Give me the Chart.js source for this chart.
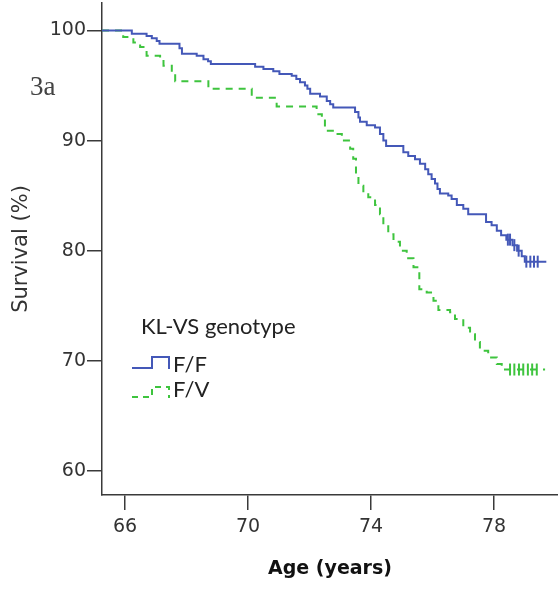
<!DOCTYPE html>
<html>
<head>
<meta charset="utf-8">
<script src="https://cdn.jsdelivr.net/npm/chart.js@4"></script>
<style>
  html, body { margin: 0; padding: 0; background: #fff; }
  #km { display: block; }
</style>
</head>
<body>
<canvas id="km" width="558" height="590"></canvas>
<script>
// Kaplan-Meier curves, values (age in years, survival in %)
const ffAge = [65.25, 66.22, 66.7, 66.87, 67.03, 67.12, 67.77, 67.85, 68.33, 68.55, 68.7, 68.79,
  70.23, 70.5, 70.82, 71.02, 71.42, 71.57, 71.69, 71.85, 71.93, 72.02, 72.34, 72.56, 72.67, 72.77,
  73.48, 73.59, 73.64, 73.86, 74.13, 74.29, 74.4, 74.49, 75.05, 75.21, 75.43, 75.59, 75.76, 75.86,
  75.97, 76.08, 76.16, 76.24, 76.51, 76.62, 76.79, 77.0, 77.16, 77.74, 77.92, 78.09, 78.23,
  78.4, 78.6, 78.75, 78.9, 79.0, 79.7];
const ffSurv = [100, 99.7, 99.5, 99.3, 99.05, 98.8, 98.4, 97.9, 97.7, 97.4, 97.2, 96.95,
  96.7, 96.5, 96.3, 96.05, 95.9, 95.6, 95.3, 95.0, 94.7, 94.25, 94.0, 93.6, 93.3, 93.0,
  92.6, 92.1, 91.7, 91.4, 91.2, 90.6, 90.0, 89.5, 88.95, 88.6, 88.3, 87.9, 87.4, 86.95,
  86.5, 86.1, 85.6, 85.2, 85.0, 84.7, 84.15, 83.8, 83.3, 82.6, 82.3, 81.8, 81.4,
  81.0, 80.5, 80.0, 79.5, 79.0, 79.0];

const fvAge = [65.25, 65.94, 66.27, 66.49, 66.7, 67.14, 67.25, 67.52, 67.63, 68.71, 70.12, 70.93,
  72.23, 72.29, 72.4, 72.5, 72.83, 73.05, 73.32, 73.42, 73.51, 73.59, 73.75, 73.91, 74.13, 74.29,
  74.4, 74.56, 74.73, 74.94, 75.16, 75.38, 75.57, 75.81, 76.03, 76.19, 76.57, 76.73, 77.0, 77.22,
  77.38, 77.54, 77.81, 78.09, 78.25, 79.66];
const fvSurv = [100, 99.4, 98.9, 98.5, 97.7, 97.4, 96.8, 96.2, 95.4, 94.7, 93.9, 93.1,
  92.4, 92.4, 92.0, 90.9, 90.6, 90.0, 89.25, 88.35, 86.8, 85.9, 85.3, 84.85, 84.15, 83.3,
  82.4, 81.5, 80.8, 80.0, 79.3, 78.5, 76.5, 76.2, 75.45, 74.6, 74.4, 73.8, 73.0, 72.4,
  71.7, 70.9, 70.3, 69.7, 69.2, 69.2];

// censored cases
const ffCensAge = [78.45, 78.52, 78.66, 78.8, 79.05, 79.18, 79.3, 79.42];
const ffCensSurv = [81.0, 81.0, 80.5, 80.0, 79.0, 79.0, 79.0, 79.0];
const fvCensAge = [78.52, 78.66, 78.81, 78.95, 79.1, 79.24, 79.39];
const fvCensSurv = [69.2, 69.2, 69.2, 69.2, 69.2, 69.2, 69.2];

const xTicks = [66, 70, 74, 78];
const yTicks = [60, 70, 80, 90, 100];

const legendTitle = 'KL-VS genotype';
const groups = ['F/F', 'F/V'];

const blue = '#4458b8';
const green = '#3ec43e';
const axisCol = '#3a3a3a';

function pts(xs, ys) {
  return xs.map((x, i) => ({ x: x, y: ys[i] }));
}

// legend with step icons plus the "3a" panel label
const extras = {
  id: 'extras',
  afterDraw(chart) {
    const c = chart.ctx;
    c.save();
    c.fillStyle = '#222';
    c.textBaseline = 'middle';
    c.font = '22px Lato, "Open Sans", sans-serif';
    c.fillText(legendTitle, 141, 327);

    c.lineWidth = 2;
    c.strokeStyle = blue;
    c.setLineDash([]);
    c.beginPath();
    c.moveTo(132, 368); c.lineTo(152, 368); c.lineTo(152, 357);
    c.lineTo(169, 357); c.lineTo(169, 369);
    c.stroke();

    c.strokeStyle = green;
    c.setLineDash([6, 5]);
    c.beginPath();
    c.moveTo(132, 397); c.lineTo(152, 397); c.lineTo(152, 387);
    c.lineTo(169, 387); c.lineTo(169, 398);
    c.stroke();
    c.setLineDash([]);

    c.fillText(groups[0], 173, 365);
    c.fillText(groups[1], 173, 390);

    c.font = '27px "Liberation Serif", serif';
    c.fillStyle = '#444';
    c.fillText('3a', 30, 88);
    c.restore();
  }
};

const ctx = document.getElementById('km').getContext('2d');

new Chart(ctx, {
  type: 'scatter',
  data: {
    datasets: [
      {
        label: groups[0],
        data: pts(ffAge, ffSurv),
        showLine: true,
        stepped: 'before',
        borderColor: blue,
        borderWidth: 2,
        pointRadius: 0
      },
      {
        label: groups[1],
        data: pts(fvAge, fvSurv),
        showLine: true,
        stepped: 'before',
        borderColor: green,
        borderWidth: 2,
        borderDash: [7, 6],
        pointRadius: 0
      },
      {
        label: 'F/F censored',
        data: pts(ffCensAge, ffCensSurv),
        showLine: false,
        pointStyle: 'line',
        rotation: 90,
        pointRadius: 6,
        borderColor: blue,
        borderWidth: 2
      },
      {
        label: 'F/V censored',
        data: pts(fvCensAge, fvCensSurv),
        showLine: false,
        pointStyle: 'line',
        rotation: 90,
        pointRadius: 6,
        borderColor: green,
        borderWidth: 2
      }
    ]
  },
  options: {
    responsive: false,
    animation: false,
    layout: { autoPadding: false, padding: { top: 3, right: 0, left: 0, bottom: 0 } },
    plugins: {
      legend: { display: false },
      tooltip: { enabled: false }
    },
    scales: {
      x: {
        type: 'linear',
        min: 65.25,
        max: 80.08,
        afterBuildTicks: s => { s.ticks = xTicks.map(v => ({ value: v })); },
        afterFit: s => { s.height = 95; s.paddingLeft = 0; s.paddingRight = 0; },
        grid: { drawOnChartArea: false, tickLength: 15, color: axisCol, lineWidth: 1.5 },
        border: { color: axisCol, width: 1.5 },
        ticks: { color: '#333', font: { family: 'DejaVu Sans', size: 19 }, padding: 6 },
        title: {
          display: true,
          text: 'Age (years)',
          color: '#111',
          font: { family: 'DejaVu Sans', size: 19, weight: 'bold' },
          padding: { top: 5, bottom: 10 }
        }
      },
      y: {
        type: 'linear',
        min: 57.8,
        max: 102.5,
        afterBuildTicks: s => { s.ticks = yTicks.map(v => ({ value: v })); },
        afterFit: s => { s.width = 102; s.paddingTop = 0; s.paddingBottom = 0; },
        grid: { drawOnChartArea: false, tickLength: 15, color: axisCol, lineWidth: 1.5 },
        border: { color: axisCol, width: 1.5 },
        ticks: { color: '#333', font: { family: 'DejaVu Sans', size: 19 }, padding: 1 },
        title: {
          display: true,
          text: 'Survival (%)',
          color: '#333',
          font: { family: 'DejaVu Sans', size: 21 },
          padding: { top: 9, bottom: 4 }
        }
      }
    }
  },
  plugins: [extras]
});
</script>
</body>
</html>
